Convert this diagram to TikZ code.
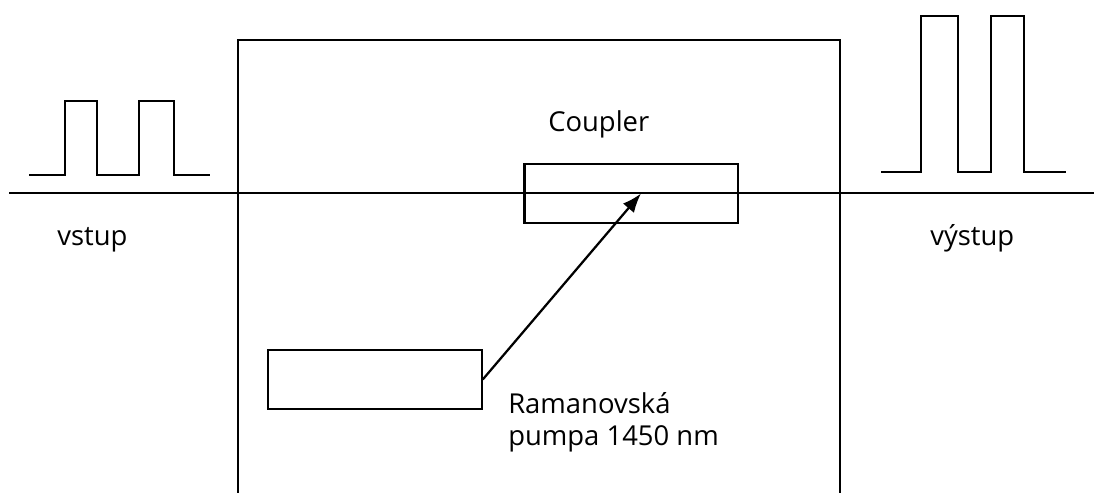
\documentclass[tikz,border=0pt]{standalone}
\usepackage{fontspec}
\setmainfont{Open Sans}
\usetikzlibrary{arrows.meta,calc}

\begin{document}
\begin{tikzpicture}[
  x=0.025cm, y=-0.025cm,
  font=\fontsize{19.5}{23}\selectfont,
  wire/.style={line width=1.6pt, draw=black},
  unitbox/.style={draw=black, line width=1.6pt, minimum width=5.33cm, minimum height=1.48cm, inner sep=0pt},
  pulse/.style={line width=1.6pt, draw=black},
  label/.style={anchor=base west, inner sep=0pt, align=left},
  arrow/.style={-{Latex[length=4.8mm,width=3.6mm]}, line width=1.6pt, draw=black}
]
\useasboundingbox (0,0) rectangle (1094,493);

% Amplifier frame (bottom edge outside the picture) and fibre
\draw[wire] (238,493) -- (238,40) -- (840,40) -- (840,493);
\draw[wire] (9,193) -- (1094,193);

% Input and output pulses
\draw[pulse] (29,175) -- (65,175) -- (65,101) -- (97,101) -- (97,175)
  -- (139,175) -- (139,101) -- (174,101) -- (174,175) -- (210,175);
\draw[pulse] (881,172) -- (921,172) -- (921,16) -- (958,16) -- (958,172)
  -- (991,172) -- (991,16) -- (1024,16) -- (1024,172) -- (1066,172);

% Components
\node[unitbox] (coupler) at (631,193.5) {};
\node[unitbox] (pump)    at (375,379.5) {};
\coordinate (tap) at ($(coupler.center)+(10,0)$);

\node[label] (couplerlbl) at (548,131) {Coupler};
\node[label] (vstup)      at (57,245)  {vstup};
\node[label] (vystup)     at (930,245) {výstup};
\node[label] (pumplbl)    at (508,413) {Ramanovská};
\node[label] (pumplbl2)   at (508,445) {pumpa 1450 nm};

\draw[arrow] (pump.east) -- (tap);

\end{tikzpicture}
\end{document}
